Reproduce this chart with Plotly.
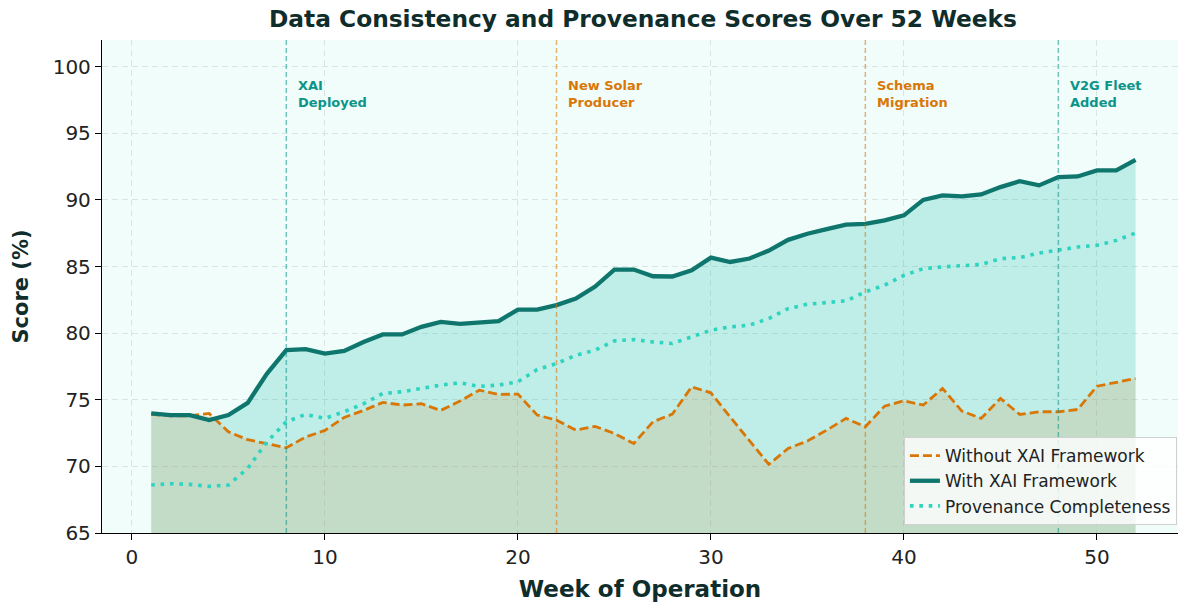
import plotly.graph_objects as go

weeks = list(range(1, 53))

without_xai = [73.9, 73.8, 73.8, 73.97, 72.6, 72.0, 71.7, 71.4, 72.2, 72.7,
               73.67, 74.2, 74.8, 74.6, 74.7, 74.2, 74.9, 75.72, 75.4, 75.42,
               73.85, 73.47, 72.72, 73.0, 72.47, 71.72, 73.35, 73.92, 75.97, 75.52,
               73.7, 71.95, 70.15, 71.35, 71.9, 72.72, 73.6, 72.97, 74.52, 74.92,
               74.6, 75.85, 74.15, 73.6, 75.1, 73.9, 74.1, 74.1, 74.27, 76.02,
               76.29, 76.59]

with_xai = [73.97, 73.85, 73.85, 73.47, 73.85, 74.77, 76.97, 78.72, 78.8, 78.47,
            78.67, 79.34, 79.9, 79.9, 80.47, 80.84, 80.7, 80.8, 80.9, 81.77,
            81.77, 82.1, 82.6, 83.5, 84.77, 84.77, 84.27, 84.25, 84.72, 85.67,
            85.34, 85.6, 86.2, 87.0, 87.46, 87.8, 88.14, 88.2, 88.46, 88.84,
            90.0, 90.34, 90.26, 90.41, 90.96, 91.41, 91.09, 91.71, 91.76, 92.21,
            92.21, 93.0]

provenance = [68.6, 68.7, 68.65, 68.5, 68.6, 69.85, 71.85, 73.35, 73.9, 73.6,
              74.1, 74.7, 75.47, 75.6, 75.85, 76.1, 76.27, 76.0, 76.1, 76.35,
              77.27, 77.72, 78.34, 78.72, 79.42, 79.52, 79.34, 79.22, 79.72, 80.22,
              80.47, 80.6, 81.1, 81.84, 82.17, 82.3, 82.42, 83.1, 83.6, 84.34,
              84.84, 84.97, 85.09, 85.15, 85.59, 85.67, 86.01, 86.21, 86.46, 86.59,
              86.96, 87.51]

event_weeks = [8, 22, 38, 48]
event_labels = ["XAI<br>Deployed", "New Solar<br>Producer", "Schema<br>Migration", "V2G Fleet<br>Added"]
event_colors = ["#0d9488", "#d97706", "#d97706", "#0d9488"]
event_line_colors = ["rgba(13,148,136,0.55)", "rgba(217,119,6,0.55)", "rgba(217,119,6,0.55)", "rgba(13,148,136,0.55)"]

x_ticks = [0, 10, 20, 30, 40, 50]
y_ticks = [65, 70, 75, 80, 85, 90, 95, 100]

FONT = "DejaVu Sans"
DARK = "#0f2d2b"

W, H = 1178, 603

fig = go.Figure()

# fills
fig.add_trace(go.Scatter(x=weeks, y=with_xai, mode="none", fill="tozeroy",
                         fillcolor="rgba(20,184,166,0.22)", showlegend=False, hoverinfo="skip"))
fig.add_trace(go.Scatter(x=weeks, y=without_xai, mode="none", fill="tozeroy",
                         fillcolor="rgba(217,119,6,0.14)", showlegend=False, hoverinfo="skip"))

# lines
fig.add_trace(go.Scatter(x=weeks, y=without_xai, mode="lines", name="Without XAI Framework",
                         line=dict(color="#d97706", width=2.8, dash="9px,4px")))
fig.add_trace(go.Scatter(x=weeks, y=with_xai, mode="lines", name="With XAI Framework",
                         line=dict(color="#0f766e", width=4.3)))
fig.add_trace(go.Scatter(x=weeks, y=provenance, mode="lines", name="Provenance Completeness",
                         line=dict(color="#2dd4bf", width=3.6, dash="3.6px,5.8px")))

for wk, lab, col, lcol in zip(event_weeks, event_labels, event_colors, event_line_colors):
    fig.add_shape(type="line", xref="x", yref="paper", x0=wk, x1=wk, y0=0, y1=1,
                  line=dict(color=lcol, width=1.5, dash="5px,3px"), layer="above")
    fig.add_annotation(x=wk + 0.5, y=99.3, xref="x", yref="y", text="<b>" + lab + "</b>",
                       showarrow=False, xanchor="left", yanchor="top", align="left",
                       font=dict(family=FONT, size=13, color=col))

fig.update_layout(
    width=W, height=H,
    margin=dict(l=102, r=0, t=40, b=70, autoexpand=False),
    paper_bgcolor="white",
    plot_bgcolor="#f0fdfa",
    title=dict(text="<b>Data Consistency and Provenance Scores Over 52 Weeks</b>",
               x=643 / W, xanchor="center", y=1 - 19 / H, yanchor="middle",
               font=dict(family=FONT, size=23.3, color=DARK)),
    font=dict(family=FONT, color="#222222"),
    legend=dict(x=0.999, xanchor="right", y=0.016, yanchor="bottom",
                bgcolor="rgba(255,255,255,0.8)", bordercolor="#d0d0d0", borderwidth=1,
                font=dict(family=FONT, size=17, color="#222222"),
                itemwidth=30, tracegroupgap=0),
    showlegend=True,
)

GRID = "rgba(190,200,200,0.45)"
fig.update_xaxes(range=[-1.55, 54.2], tickvals=x_ticks, ticks="outside", ticklen=6,
                 tickcolor="black", showline=True, linecolor="black", linewidth=1.3,
                 showgrid=True, gridcolor=GRID, griddash="6px,4px",
                 zeroline=False, tickfont=dict(family=FONT, size=20, color="#222222"),
                 title=dict(text="<b>Week of Operation</b>", standoff=12,
                            font=dict(family=FONT, size=23, color=DARK)))
fig.update_yaxes(range=[65, 102], tickvals=y_ticks, ticks="outside", ticklen=6,
                 tickcolor="black", showline=True, linecolor="black", linewidth=1.3,
                 showgrid=True, gridcolor=GRID, griddash="6px,4px",
                 zeroline=False, tickfont=dict(family=FONT, size=20, color="#222222"),
                 title=dict(text="<b>Score (%)</b>", standoff=18,
                            font=dict(family=FONT, size=21, color=DARK)))

fig.write_html("out.html", config={"displayModeBar": False},
               post_script="document.body.style.margin='0';document.body.style.overflow='hidden';")
